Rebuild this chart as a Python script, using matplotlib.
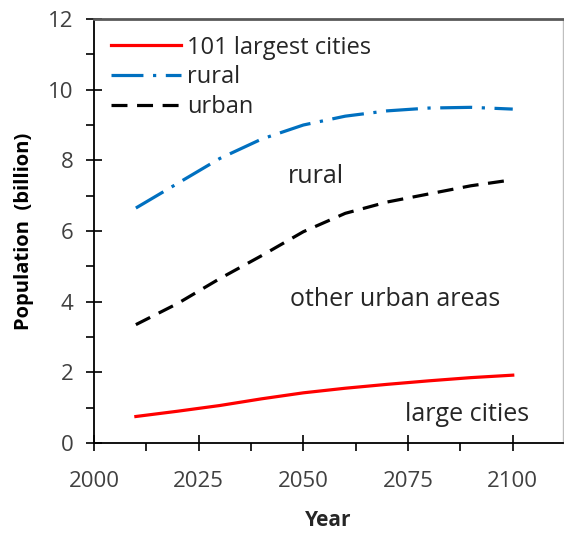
import matplotlib
matplotlib.use("Agg")
import matplotlib.pyplot as plt
from matplotlib.ticker import MultipleLocator

years = [2010, 2020, 2030, 2040, 2050, 2060, 2070, 2080, 2090, 2100]
largest_cities = [0.75, 0.90, 1.06, 1.25, 1.42, 1.55, 1.66, 1.76, 1.85, 1.92]
rural = [6.65, 7.35, 8.05, 8.60, 9.00, 9.25, 9.40, 9.48, 9.50, 9.45]
urban = [3.35, 3.95, 4.65, 5.30, 5.98, 6.50, 6.82, 7.05, 7.28, 7.45]

series_labels = ["101 largest cities", "rural", "urban"]
annotations = [("rural", 2053, 7.55), ("other urban areas", 2072, 4.05), ("large cities", 2089, 0.8)]

plt.rcParams['font.family'] = ['Open Sans', 'DejaVu Sans']

fig = plt.figure(figsize=(5.64, 5.35), dpi=100)
ax = fig.add_axes([94/564, 1-443/535, (563-94)/564, (443-19)/535])

lw = 2.3
ax.plot(years, largest_cities, color='#FF0000', lw=lw, label=series_labels[0])
ax.plot(years, rural, color='#0070C0', lw=lw, linestyle=(0, (10, 3, 1, 3)), label=series_labels[1])
ax.plot(years, urban, color='#000000', lw=lw, linestyle=(0, (5, 3)), label=series_labels[2])

for txt, x, y in annotations:
    ax.text(x, y, txt, ha='center', va='center', fontsize=18, color='#262626')

ax.set_xlim(2000, 2112)
ax.set_ylim(0, 12)
ax.xaxis.set_minor_locator(MultipleLocator(12.5))
ax.yaxis.set_major_locator(MultipleLocator(2))
ax.yaxis.set_minor_locator(MultipleLocator(1))
ax.set_xticks([2000, 2025, 2050, 2075, 2100])

ax.tick_params(which='major', direction='inout', length=12, width=1.2, color='black',
               labelsize=16, labelcolor='#404040')
ax.tick_params(axis='y', which='major', pad=9)
ax.tick_params(axis='x', which='major', pad=14)
ax.tick_params(which='minor', direction='out', length=5.5, width=1.2, color='black')

for s in ['left', 'bottom']:
    ax.spines[s].set_color('black')
    ax.spines[s].set_linewidth(1.3)
ax.spines['top'].set_color('#595959')
ax.spines['top'].set_linewidth(2.0)
ax.spines['right'].set_color('#BFBFBF')
ax.spines['right'].set_linewidth(1.0)

ax.set_xlabel('Year', fontsize=15, fontweight='bold', color='#262626', labelpad=13)
ax.set_ylabel('Population  (billion)', fontsize=14.5, fontweight='bold', color='#000000', labelpad=10)

leg = ax.legend(loc='upper left', frameon=False, fontsize=17, handlelength=3.0,
                handletextpad=0.25, labelspacing=0.25, borderaxespad=0.3, labelcolor='#262626')

fig.savefig('out.png', dpi=100)
